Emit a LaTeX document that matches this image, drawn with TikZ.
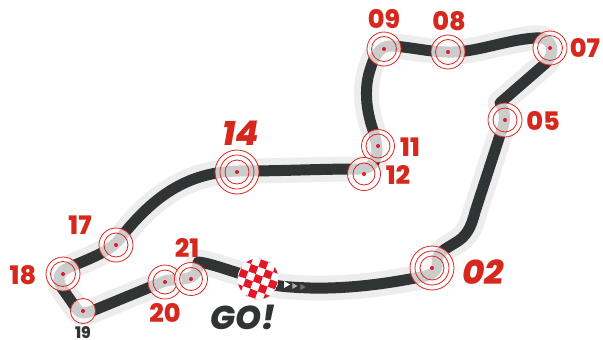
\documentclass[tikz,border=0pt]{standalone}
\usepackage{xcolor}
\usepackage{fontspec}
\newfontfamily\heavyfont{Poppins}[UprightFont=* ExtraBold, ItalicFont=* ExtraBold Italic]
\usepackage{tikz}
\usetikzlibrary{arrows.meta,positioning,calc,shapes.geometric}
\definecolor{trackdark}{RGB}{48,52,53}
\definecolor{trackhalo}{RGB}{237,237,237}
\definecolor{turnred}{RGB}{220,40,35}
\definecolor{labelred}{RGB}{214,40,28}
\definecolor{flagred}{RGB}{226,24,40}
\tikzset{
  x=1pt, y=-1pt,
  turn/.style={circle, draw=turnred, line width=0.8pt, fill=white, fill opacity=0.75,
               draw opacity=1, minimum size=#1, inner sep=0pt},
  ring/.style={circle, draw=turnred, line width=0.8pt, minimum size=#1, inner sep=0pt},
  dot/.style={circle, fill=flagred, minimum size=4pt, inner sep=0pt},
  lab/.style={font=\fontsize{25.5}{25.5}\heavyfont, text=labelred, inner sep=0pt},
  biglab/.style={font=\fontsize{34}{34}\heavyfont\itshape, text=labelred, inner sep=0pt},
  arrowtip/.style={regular polygon, regular polygon sides=3, shape border rotate=-90,
                   inner sep=0pt, minimum size=#1},
}
\begin{document}
\begin{tikzpicture}
  \useasboundingbox (0,0) rectangle (603,340);
  % corners of the circuit
  \coordinate (t02) at (432,268);
  \coordinate (t05) at (505,120);
  \coordinate (t07) at (550,48);
  \coordinate (t08) at (448,52);
  \coordinate (t09) at (384,49);
  \coordinate (t11) at (378,146);
  \coordinate (t12) at (364,174);
  \coordinate (t14) at (237,172);
  \coordinate (t17) at (116,245);
  \coordinate (t18) at (63,274);
  \coordinate (t19) at (83,311);
  \coordinate (t20) at (165,282);
  \coordinate (t21) at (191,279);
  \coordinate (go) at (258,279);
  % the track
  \def\trackpath{(go) .. controls (268,286) and (285,287) .. (310,288)
    .. controls (350,289) and (390,283) .. (415,278)
    .. controls (430,276) and (439,272) .. (437,262)
    .. controls (436,253) and (447,248) .. (455,243)
    .. controls (466,237) and (471,228) .. (475,212)
    -- (500,135) .. controls (506,122) and (506,112) .. (500,103)
    -- (546,63) .. controls (555,54) and (555,36) .. (535,38)
    .. controls (505,40) and (475,53) .. (448,52)
    .. controls (430,52) and (410,47) .. (392,46)
    .. controls (380,45) and (374,56) .. (370,70)
    .. controls (365,85) and (365,105) .. (372,127)
    .. controls (377,142) and (382,163) .. (366,168)
    -- (358,169)
    .. controls (320,169) and (280,171) .. (245,171)
    .. controls (190,170) and (155,195) .. (122,236)
    .. controls (110,252) and (95,256) .. (68,268)
    .. controls (58,272) and (57,280) .. (62,288)
    -- (76,308) .. controls (80,314) and (84,314) .. (92,311)
    -- (165,281) .. controls (182,277) and (198,284) .. (198,262)
    .. controls (210,263) and (230,271) .. (go)}
  \draw[trackhalo, line width=25pt, line join=round, line cap=round] \trackpath;
  \draw[trackdark, line width=11pt, line join=round] \trackpath;
  % turns
  \foreach \name/\outer/\inner in {t05/34/24, t07/34/25, t08/34/25, t09/34/25, t11/33/24,
      t12/33/22, t17/34/24, t18/34/25, t20/34/24, t21/33/23}{
    \node[turn=\outer pt] (c\name) at (\name) {};
    \node[ring=\inner pt] at (\name) {};
    \node[dot] at (\name) {};
  }
  \node[turn=25pt] (ct19) at (t19) {};
  \node[dot] at (t19) {};
  \foreach \name in {t02,t14}{
    \node[turn=44pt] (c\name) at (\name) {};
    \node[ring=34pt] at (\name) {};
    \node[ring=24pt] at (\name) {};
    \node[dot] at (\name) {};
  }
  % start flag
  \begin{scope}
    \clip (go) circle (20.5pt);
    \fill[white] (go) circle (20.5pt);
    \foreach \i in {-4,...,4}{
      \foreach \j in {-4,...,4}{
        \pgfmathparse{int(mod(\i+\j+8,2))}
        \ifnum\pgfmathresult=0
          \fill[flagred, shift={(go)}, rotate=-20]
            (\i*7.8-3.9,\j*7.8-3.9) rectangle ++(7.8,7.8);
        \fi
      }
    }
  \end{scope}
  \node[arrowtip=8pt, fill=white] (a1) at (286,284.5) {};
  \node[arrowtip=7pt, fill=white!70!black] (a2) at (294,286) {};
  \node[arrowtip=7pt, fill=white!45!black] (a3) at (302,287) {};
  % labels
  \node[lab] (l09) at (384,19) {09};
  \node[lab] (l08) at (449,21) {08};
  \node[lab] (l07) at (585,48) {07};
  \node[lab] (l05) at (543,121) {05};
  \node[lab] (l11) at (410,147) {11};
  \node[lab] (l12) at (398,175) {12};
  \node[biglab] (l14) at (241,133) {14};
  \node[biglab] (l02) at (483,272) {02};
  \node[lab] (l17) at (80,225) {17};
  \node[lab] (l18) at (23,275) {18};
  \node[lab] (l20) at (165,313) {20};
  \node[lab] (l21) at (187,248) {21};
  \node[font=\fontsize{16}{16}\heavyfont, text=trackdark, inner sep=0pt] (l19) at (83,333) {19};
  \node[font=\fontsize{33}{33}\heavyfont\itshape, text=trackdark, inner sep=0pt] (lgo) at (243,317) {GO!};
\end{tikzpicture}
\end{document}
